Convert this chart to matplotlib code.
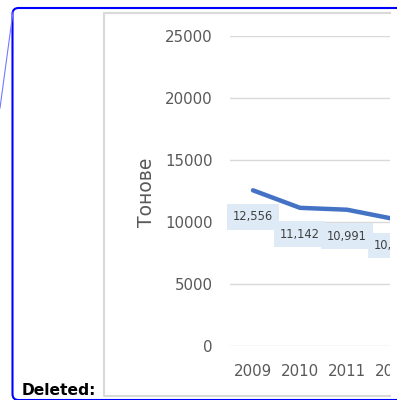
import numpy as np
import matplotlib.pyplot as plt
from matplotlib.lines import Line2D
from matplotlib.patches import Rectangle, FancyBboxPatch
from matplotlib.transforms import IdentityTransform

years = ['2009', '2010', '2011', '2012']
tonnes = [12556, 11142, 10991, 10245]
y_ticks = [0, 5000, 10000, 15000, 20000, 25000]
y_label = 'Тонове'
margin_note = 'Deleted:'

W, H = 397, 400
fig = plt.figure(figsize=(W / 100, H / 100), dpi=100)


def fx(x):
    return x / W


def fy(y):
    return 1 - y / H


# plot area (runs past the right edge, the page crop cuts it off)
ax = fig.add_axes([fx(229.5), fy(346), 188 / W, (346 - 36) / H])
x = np.arange(len(years))
ax.plot(x, tonnes, color='#4472C4', lw=3.2, solid_capstyle='round', zorder=3)
for xi, v in zip(x, tonnes):
    ax.annotate(f'{v:,}', (xi, v), xytext=(0, -19), textcoords='offset points',
                ha='center', va='center', fontsize=8.3, color='#404040', zorder=4,
                bbox=dict(boxstyle='square,pad=0.55', fc='#DEEBF7', ec='none'))
ax.set_xlim(-0.5, len(years) - 0.5)
ax.set_ylim(0, 25000)
ax.set_yticks(y_ticks)
ax.set_xticks(x, years)
ax.grid(axis='y', color='#D9D9D9', lw=1)
ax.set_axisbelow(True)
for s in ax.spines.values():
    s.set_visible(False)
ax.tick_params(length=0, labelsize=10.8, labelcolor='#595959')
ax.tick_params(axis='y', pad=12)
ax.tick_params(axis='x', pad=13)

fig.text(fx(146), fy(192), y_label, rotation=90, ha='center', va='center',
         fontsize=13.5, color='#595959')

# crop of the page at the right
fig.add_artist(Rectangle((fx(390), fy(398)), 0.05, fy(10) - fy(398),
                         transform=fig.transFigure, fc='white', ec='none', zorder=5))

# chart border
fig.add_artist(Line2D([fx(390), fx(104), fx(104), fx(390)],
                      [fy(13), fy(13), fy(396), fy(396)],
                      transform=fig.transFigure, color='#D9D9D9', lw=1.5, zorder=6))

# tracked-change balloon frame
fig.add_artist(FancyBboxPatch((12.5, H - 400), 404 - 12.5, 400 - 8,
                              boxstyle='round,pad=0,rounding_size=6',
                              transform=IdentityTransform(), fc='none',
                              ec='#0000FF', lw=1.5, zorder=7))
fig.add_artist(Line2D([fx(13), fx(0)], [fy(12), fy(108)],
                      transform=fig.transFigure, color='#7878FF', lw=0.8, zorder=7))

fig.text(fx(22), fy(395), margin_note, ha='left', va='baseline',
         fontsize=11.2, fontweight='bold', color='black', zorder=8)

fig.savefig('out.png', dpi=100)
